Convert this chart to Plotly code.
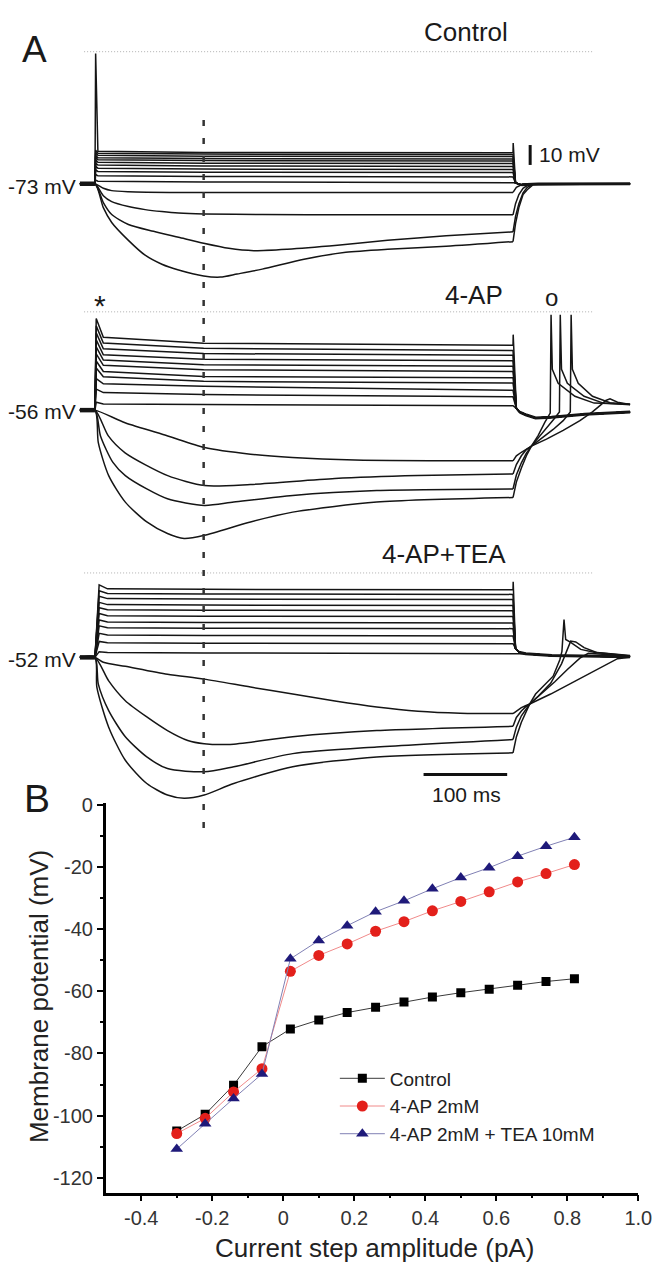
import plotly.graph_objects as go

W, H = 668, 1263
FONT = "Liberation Sans, Arial, sans-serif"
TRACE_COLOR = "#151515"

# ---------------- Panel B data (steady-state membrane potential, mV) ----------------
current_pA = [-0.30, -0.22, -0.14, -0.06, 0.02, 0.10, 0.18, 0.26, 0.34, 0.42, 0.50, 0.58, 0.66, 0.74, 0.82]
vm_control = [-105.0, -99.6, -90.2, -77.8, -72.1, -69.2, -66.8, -65.1, -63.4, -61.8, -60.4, -59.3, -58.0, -56.8, -55.9]
vm_4ap = [-105.8, -100.9, -92.4, -84.9, -53.5, -48.4, -44.7, -40.6, -37.5, -34.0, -31.0, -27.9, -24.7, -22.0, -19.1]
vm_4ap_tea = [-110.8, -102.6, -94.5, -86.6, -49.5, -43.6, -38.8, -34.3, -30.8, -26.9, -23.3, -20.1, -16.4, -13.2, -10.3]
series_names = ["Control", "4-AP 2mM", "4-AP 2mM + TEA 10mM"]
x_tick_vals = [-0.4, -0.2, 0.0, 0.2, 0.4, 0.6, 0.8, 1.0]
x_tick_text = ["-0.4", "-0.2", "0", "0.2", "0.4", "0.6", "0.8", "1.0"]
y_tick_vals = [0, -20, -40, -60, -80, -100, -120]
y_tick_text = ["0", "-20", "-40", "-60", "-80", "-100", "-120"]

# ---------------- Panel A data (voltage traces; time in ms, voltage in mV) ----------------
rest_mv = {"ctrl": -73.0, "ap": -56.0, "tea": -52.0}

# depolarizing steps: onset peak, early value, value at 130 ms (end value = panel B)
ctrl_peak = [-71.0, -67.8, -65.3, -63.4, -61.6, -59.9, -58.4, -57.2, -55.8, -54.5, -1.0]
ctrl_early = [-71.6, -68.6, -66.2, -64.4, -62.7, -61.1, -59.7, -58.6, -57.3, -56.1, -55.0]
ctrl_mid = [-72.0, -69.0, -66.6, -64.9, -63.2, -61.6, -60.2, -59.1, -57.8, -56.6, -55.7]
ap_peak = [-51.5, -44.0, -38.0, -32.0, -28.0, -24.0, -20.0, -16.0, -12.0, -8.0, -3.8]
ap_early = [-52.5, -46.0, -41.0, -37.0, -34.0, -30.5, -27.5, -24.5, -21.0, -17.8, -14.5]
ap_mid = [-52.8, -47.1, -42.4, -39.6, -36.8, -33.0, -30.1, -27.0, -23.8, -20.8, -17.9]
tea_peak = [-48.5, -42.2, -37.2, -32.6, -29.0, -25.0, -21.4, -18.1, -14.4, -11.0, -7.3]
tea_early = [-49.0, -43.0, -38.2, -33.7, -30.2, -26.3, -22.7, -19.5, -15.8, -12.6, -9.8]
tea_mid = [-49.3, -43.3, -38.5, -34.0, -30.5, -26.6, -23.0, -19.8, -16.1, -12.9, -10.1]

# repolarization after the end of the depolarizing steps
ctrl_off_t = [503, 510, 530, 640]
ctrl_off_v = [-72.5, -73.6, -73.2, -73.0]
ap_off_t = [504, 508, 516, 527, 546, 586, 640]
ap_off_v = [-55.0, -57.2, -58.8, -60.5, -60.0, -58.3, -57.1]
tea_off_t = [503, 507, 515, 546, 640]
tea_off_v = [-46.5, -48.8, -49.8, -50.9, -51.6]
step_end_artifact = {"ctrl": -50.5, "ap": -13.0, "tea": -5.5}

# hyperpolarizing steps (h1 = -0.06 pA ... h4 = -0.30 pA): during (st/sv) and after (pt/pv) the step
ctrl_hyp = [
    dict(st=[0, 10, 20, 40, 100], sv=[-73.0, -75.5, -76.8, -77.4, -77.8],
         pt=[504, 510, 517, 640], pv=[-75.0, -73.6, -73.1, -73.0]),
    dict(st=[0, 10, 20, 40, 60, 80, 100, 130, 200, 300], sv=[-73.0, -79.6, -82.9, -85.6, -87.3, -88.4, -89.2, -89.7, -90.0, -90.2],
         pt=[503, 507, 512, 517, 524, 640], pv=[-84.0, -79.0, -75.5, -74.0, -73.2, -73.0]),
    dict(st=[0, 10, 20, 40, 70, 100, 130, 160, 190, 230, 290, 350, 420],
         sv=[-73.0, -83.4, -90.0, -95.5, -99.3, -102.6, -105.9, -108.7, -110.0, -109.2, -107.0, -104.3, -101.8],
         pt=[503, 507, 512, 517, 524, 640], pv=[-91.0, -84.0, -78.0, -75.0, -73.3, -73.0]),
    dict(st=[0, 10, 20, 40, 60, 80, 100, 130, 150, 170, 200, 250, 300, 350, 420],
         sv=[-73.0, -86.2, -94.4, -104.3, -112.5, -117.5, -120.7, -124.0, -124.6, -122.9, -120.2, -114.7, -110.9, -109.2, -107.6],
         pt=[503, 507, 512, 517, 524, 640], pv=[-95.0, -86.2, -79.0, -76.3, -73.5, -73.0]),
]
ap_hyp = [
    dict(st=[0, 36, 87, 131, 186, 236, 311], sv=[-56.0, -63.2, -70.7, -77.3, -81.1, -83.0, -84.4],
         pt=[504, 510, 516, 522, 540, 560, 580, 595, 605, 611, 616, 625, 640],
         pv=[-82.0, -80.0, -78.0, -76.5, -72.5, -67.5, -62.0, -57.0, -53.0, -50.5, -49.5, -51.5, -52.8]),
    dict(st=[0, 16, 36, 87, 131, 186, 287, 386], sv=[-56.0, -70.7, -80.3, -93.3, -99.0, -98.4, -95.0, -93.3],
         pt=[504, 510, 516, 522, 535, 548, 560, 568.5, 569.5, 571, 578, 595, 616, 640],
         pv=[-87.0, -82.0, -78.5, -76.5, -72.0, -67.0, -62.0, -57.1, -1.7, -32.8, -40.7, -48.1, -51.8, -52.6]),
    dict(st=[0, 6.6, 21.5, 36.3, 62, 86.7, 131, 166, 236.5, 337],
         sv=[-56.0, -70.7, -85.8, -93.3, -100.9, -106.5, -110.3, -108.4, -104.6, -101.8],
         pt=[504, 510, 516, 522, 532, 542, 550, 555.5, 556.5, 558, 565, 585, 608, 640],
         pv=[-93.0, -86.0, -80.5, -76.5, -71.0, -65.0, -60.5, -57.1, -1.7, -32.8, -40.7, -48.1, -52.0, -52.9]),
    dict(st=[0, 4, 16.4, 36.3, 62, 86.7, 106.6, 131, 186, 236.5, 337],
         sv=[-56.0, -74.5, -93.3, -108.4, -119.7, -126.3, -129.1, -127.3, -119.7, -114.1, -108.4],
         pt=[504, 510, 516, 522, 530, 538, 543.5, 544.5, 545.5, 547, 554, 574, 597, 640],
         pv=[-97.0, -89.0, -82.0, -76.5, -70.5, -63.0, -58.5, -57.7, -1.7, -32.8, -40.7, -48.1, -52.0, -52.6]),
]
tea_hyp = [
    dict(st=[0, 10, 36.3, 86.7, 130.6, 186, 236.5, 287, 337, 386.4, 436.8],
         sv=[-52.0, -55.0, -57.5, -62.4, -65.4, -70.3, -74.6, -78.9, -82.6, -85.2, -86.4],
         pt=[505, 510, 515, 520, 545, 575, 605, 625, 640], pv=[-84.5, -83.0, -81.8, -80.7, -74.6, -66.5, -58.0, -52.8, -52.0]),
    dict(st=[0, 16.4, 36.3, 62, 86.7, 111, 130.6, 161.6, 236.5, 337],
         sv=[-52.0, -66.5, -78.7, -88.7, -97.1, -103.2, -105.2, -105.6, -100.9, -97.1],
         pt=[504, 510, 515, 520, 535, 550, 565, 580, 590, 610, 640],
         pv=[-89.0, -85.0, -82.5, -80.7, -74.0, -67.0, -59.5, -52.5, -49.5, -50.3, -51.3]),
    dict(st=[0, 4, 16.4, 36.3, 62, 86.7, 130.6, 166, 236.5, 337],
         sv=[-52.0, -68.5, -84.8, -100.9, -113.3, -120.5, -122.5, -119.4, -111.3, -107.2],
         pt=[504, 510, 515, 520, 530, 545, 558, 565, 569, 575, 585, 600, 625, 640],
         pv=[-95.0, -88.0, -84.0, -80.7, -76.0, -68.0, -56.0, -47.0, -42.0, -42.5, -46.0, -49.0, -50.5, -51.2]),
    dict(st=[0, 2.3, 16.4, 36.3, 62, 86.7, 106.6, 130.6, 166, 236.5, 337],
         sv=[-52.0, -70.5, -95.0, -115.4, -129.7, -136.8, -138.8, -136.8, -129.7, -119.4, -113.3],
         pt=[504, 510, 515, 520, 527, 548, 556, 558.5, 561, 563, 569, 581, 597, 624, 640],
         pv=[-101.0, -92.0, -86.0, -80.7, -74.6, -63.6, -53.5, -48.3, -28.7, -41.0, -42.8, -47.1, -48.9, -50.2, -50.8]),
]

# ---------------- layout helpers (pixel -> paper) ----------------
def px(x):
    return x / W

def py(y):
    return 1 - y / H

T0_PX, PX_PER_MS = 97.0, 0.854
zero_px = {"ctrl": 43.0, "ap": 305.0, "tea": 568.0}
px_per_mv = {"ctrl": 1.822, "ap": 1.768, "tea": 1.635}
yaxis_of = {"ctrl": "y", "ap": "y2", "tea": "y3"}

fig = go.Figure()


def add_line(t, v, yax, shape="linear", width=1.5):
    line = dict(color=TRACE_COLOR, width=width, shape=shape)
    if shape == "spline":
        line["smoothing"] = 0.7
    fig.add_trace(go.Scatter(x=t, y=v, mode="lines", xaxis="x", yaxis=yax, line=line,
                             showlegend=False, hoverinfo="skip"))


panels = [
    ("ctrl", vm_control, ctrl_peak, ctrl_early, ctrl_mid, 0.8, 3.5, ctrl_off_t, ctrl_off_v, ctrl_hyp),
    ("ap", vm_4ap, ap_peak, ap_early, ap_mid, 1.5, 10.0, ap_off_t, ap_off_v, ap_hyp),
    ("tea", vm_4ap_tea, tea_peak, tea_early, tea_mid, 5.0, 15.0, tea_off_t, tea_off_v, tea_hyp),
]

for key, vm, pk, er, md, t_pk, t_er, off_t, off_v, hyp in panels:
    yax = yaxis_of[key]
    base = rest_mv[key]
    ss = vm[4:]
    ends = [vm[3], vm[2], vm[1], vm[0]]
    for h, end in zip(hyp, ends):
        add_line([-18] + h["st"] + [500], [base] + h["sv"] + [end], yax, shape="spline")
        add_line([500] + h["pt"], [end] + h["pv"], yax)
    for i in range(len(ss)):
        t = [-18, 0, t_pk, t_er, 130, 500]
        v = [base, base, pk[i], er[i], md[i], ss[i]]
        if i == len(ss) - 1:
            t.append(500.2)
            v.append(step_end_artifact[key])
        t += off_t
        v += [min(ss[i], o) for o in off_v]
        add_line(t, v, yax, width=1.5)
    add_line([-18, 0], [base, base], yax, width=4.5)
    add_line(off_t[1:], off_v[1:], yax, width=3.0)

# ---------------- Panel B ----------------
styles = [
    dict(symbol="square", size=9, color="#000000", line="#3a3a3a"),
    dict(symbol="circle", size=11, color="#e3201b", line="#f08a8a"),
    dict(symbol="triangle-up", size=11, color="#1f1a7a", line="#8080b4"),
]
for name, vals, st in zip(series_names, [vm_control, vm_4ap, vm_4ap_tea], styles):
    fig.add_trace(go.Scatter(
        x=current_pA, y=vals, name=name, mode="lines+markers", xaxis="x2", yaxis="y4",
        line=dict(color=st["line"], width=1),
        marker=dict(symbol=st["symbol"], size=st["size"], color=st["color"], line=dict(width=0)),
    ))

# ---------------- shapes ----------------
shapes = []
for key in ["ctrl", "ap", "tea"]:
    shapes.append(dict(type="line", xref="x", yref=yaxis_of[key], x0=-13, x1=597, y0=0, y1=0,
                       line=dict(color="#b0b0b0", width=1, dash="1px,2px")))
# dashed time marker at 130 ms, spanning panel A into panel B
shapes.append(dict(type="line", xref="x", yref="paper", x0=130, x1=130, y0=py(825), y1=py(108),
                   line=dict(color="#333333", width=2.5, dash="6px,12px")))
# scale bars (10 mV, 100 ms)
shapes.append(dict(type="line", xref="x", yref="y", x0=520.5, x1=520.5, y0=-51.6, y1=-62.6,
                   line=dict(color="#111111", width=3)))
shapes.append(dict(type="line", xref="x", yref="y3", x0=393, x1=493, y0=-124.2, y1=-124.2,
                   line=dict(color="#111111", width=3)))

# ---------------- annotations ----------------
def ann(text, x, y, size, xanchor="center", yanchor="middle", angle=0, color="#1a1a1a"):
    return dict(text=text, x=px(x), y=py(y), xref="paper", yref="paper", showarrow=False,
                xanchor=xanchor, yanchor=yanchor, textangle=angle,
                font=dict(family=FONT, size=size, color=color))

annotations = [
    ann("A", 35, 41, 37),
    ann("B", 38, 795, 39),
    ann("Control", 476, 23, 26),
    ann("4-AP", 484, 288, 26),
    ann("4-AP+TEA", 453, 549, 26),
    ann("*", 102, 299, 30),
    ann("o", 563, 291, 24),
    ann("-73 mV", 80, 179, 21, xanchor="right"),
    ann("-56 mV", 80, 405, 21, xanchor="right"),
    ann("-52 mV", 80, 655, 21, xanchor="right"),
    ann("10 mV", 548, 147, 21, xanchor="left"),
    ann("100 ms", 476, 791, 21),
    ann("Membrane potential (mV)", 40, 995, 26, angle=-90, color="#222222"),
    ann("Current step amplitude (pA)", 383, 1248, 26, color="#222222"),
]

def yrange(key):
    z, s = zero_px[key], px_per_mv[key]
    return [-(H - z) / s, z / s]

fig.update_layout(
    width=W, height=H, margin=dict(l=0, r=0, t=0, b=0),
    paper_bgcolor="white", plot_bgcolor="rgba(0,0,0,0)",
    font=dict(family=FONT, color="#222222"),
    xaxis=dict(domain=[0, 1], range=[-T0_PX / PX_PER_MS, (W - T0_PX) / PX_PER_MS], visible=False),
    yaxis=dict(domain=[0, 1], range=yrange("ctrl"), visible=False, anchor="x"),
    yaxis2=dict(domain=[0, 1], range=yrange("ap"), visible=False, anchor="x", overlaying="y"),
    yaxis3=dict(domain=[0, 1], range=yrange("tea"), visible=False, anchor="x", overlaying="y"),
    xaxis2=dict(domain=[px(108), px(652)], range=[-0.5, 1.0], anchor="y4",
                showline=True, linecolor="black", linewidth=2.5, mirror=False,
                ticks="outside", ticklen=6, tickwidth=2, tickcolor="black",
                tickmode="array", tickvals=x_tick_vals, ticktext=x_tick_text,
                minor=dict(tickmode="array", tickvals=[-0.3, -0.1, 0.1, 0.3, 0.5, 0.7, 0.9],
                           ticks="outside", ticklen=3, tickwidth=2, tickcolor="black"),
                tickfont=dict(family=FONT, size=20, color="#333333"),
                showgrid=False, zeroline=False),
    yaxis4=dict(domain=[py(1192), py(800)], range=[-124.8, 0.64], anchor="x2",
                showline=True, linecolor="black", linewidth=2.5, mirror=False,
                ticks="outside", ticklen=6, tickwidth=2, tickcolor="black",
                tickmode="array", tickvals=y_tick_vals, ticktext=y_tick_text,
                minor=dict(tickmode="array", tickvals=[-10, -30, -50, -70, -90, -110],
                           ticks="outside", ticklen=3, tickwidth=2, tickcolor="black"),
                tickfont=dict(family=FONT, size=20, color="#333333"),
                showgrid=False, zeroline=False),
    showlegend=True,
    legend=dict(x=px(342), y=py(1058), xanchor="left", yanchor="top", itemwidth=45,
                bgcolor="rgba(0,0,0,0)", font=dict(family=FONT, size=19, color="#222222"),
                tracegroupgap=0),
    shapes=shapes, annotations=annotations,
)

fig.write_html("out.html")
